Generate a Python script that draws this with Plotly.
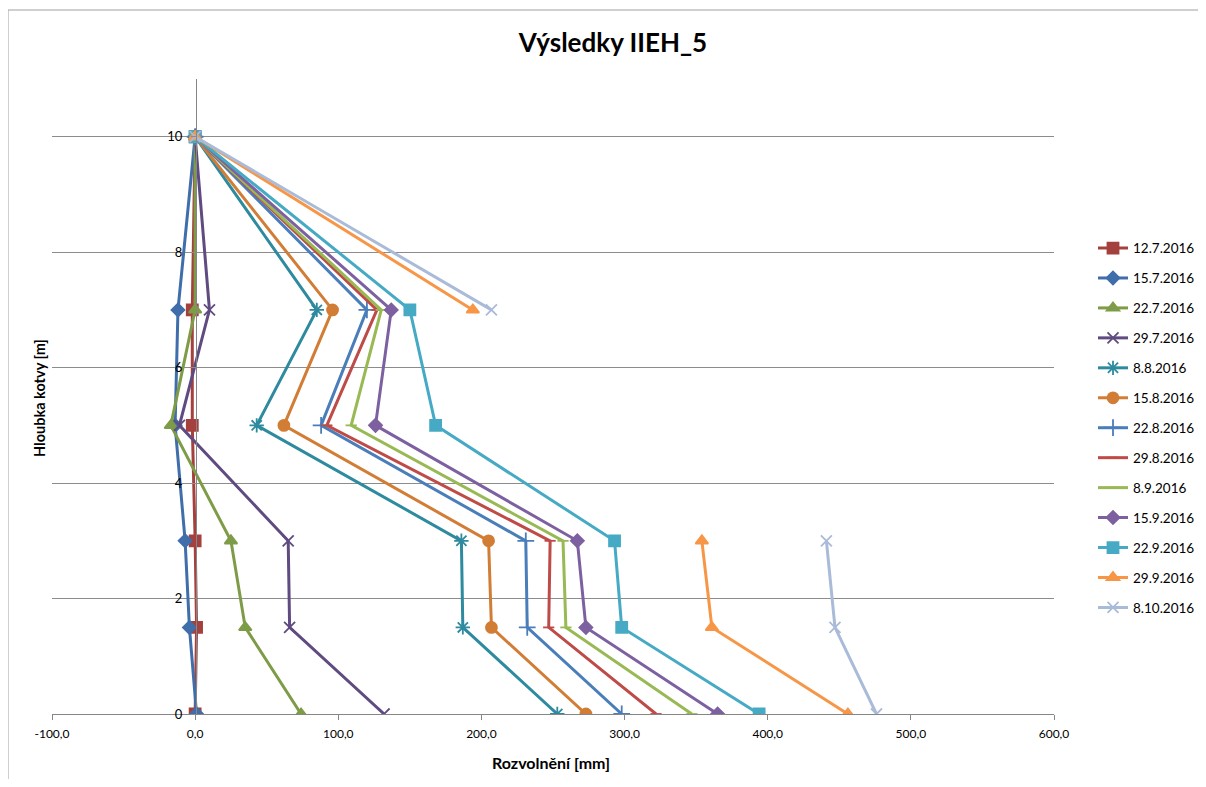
import plotly.graph_objects as go

# ---- data ----
depth = [0, 1.5, 3, 5, 7, 10]  # Hloubka kotvy [m]

series_names = ["12.7.2016", "15.7.2016", "22.7.2016", "29.7.2016", "8.8.2016",
                "15.8.2016", "22.8.2016", "29.8.2016", "8.9.2016", "15.9.2016",
                "22.9.2016", "29.9.2016", "8.10.2016"]

s_12_7 = [0, 1, 0, -2, -2, 0]
s_15_7 = [1, -4, -7, -14, -12, 0]
s_22_7 = [74, 35, 25, -17, 0, 0]
s_29_7 = [132, 66, 65, -11, 10, 0]
s_8_8 = [253, 187, 186, 43, 85, 0]
s_15_8 = [273, 207, 205, 62, 96, 0]
s_22_8 = [298, 232, 231, 88, 120, 0]
s_29_8 = [322, 247, 248, 92, 127, 0]
s_8_9 = [347, 259, 257, 109, 130, 0]
s_15_9 = [365, 273, 267, 126, 137, 0]
s_22_9 = [394, 298, 293, 168, 150, 0]
s_29_9 = [456, 361, 354, None, 194, 0]
s_8_10 = [476, 447, 441, None, 207, 0]

series_values = [s_12_7, s_15_7, s_22_7, s_29_7, s_8_8, s_15_8, s_22_8,
                 s_29_8, s_8_9, s_15_9, s_22_9, s_29_9, s_8_10]

x_ticks = [-100, 0, 100, 200, 300, 400, 500, 600]
x_ticklabels = ["-100,0", "0,0", "100,0", "200,0", "300,0", "400,0", "500,0", "600,0"]
y_ticks = [0, 2, 4, 6, 8, 10]

# ---- styles ----
colors = ["#A4403D", "#3F6EAA", "#7E9C47", "#5F4B80", "#2E8A9E", "#D27D35",
          "#4A7EBB", "#BE4B48", "#98B954", "#7D60A0", "#46AAC5", "#F79646", "#A9BBD9"]
symbols = ["square", "diamond", "triangle-up", "x-thin-open", "asterisk-open",
           "circle", "cross-thin-open", "line-ew-open", "line-ew-open", "diamond",
           "square", "triangle-up", "x-thin-open"]
sizes = [11, 10, 11, 11, 12, 11, 12, 8, 8, 10, 11, 11, 11]

FONT = "Lato, 'Open Sans', sans-serif"

fig = go.Figure()
for i, (name, vals) in enumerate(zip(series_names, series_values)):
    fig.add_trace(go.Scatter(
        x=vals, y=depth, name=name, mode="lines+markers",
        legendgroup=f"g{i}",
        connectgaps=False,
        line=dict(color=colors[i], width=3),
        marker=dict(symbol=symbols[i], size=sizes[i], color=colors[i],
                    line=dict(color=colors[i], width=1.8)),
    ))

# page body has an 8px margin on every side: work in page pixels, subtract offset
OFF = 8
W, H = 1206 - 2 * OFF, 787 - 2 * OFF
L, T = 52 - OFF, 79 - OFF
R = W - (1054 - OFF)
B = H - (714 - OFF)
plot_w = W - L - R
plot_h = H - T - B


def px_x(px):
    return (px - 52) / plot_w


def px_y(py):
    return (714 - py) / plot_h


fig.update_layout(
    width=W, height=H,
    margin=dict(l=L, r=R, t=T, b=B, autoexpand=False),
    paper_bgcolor="white", plot_bgcolor="white",
    font=dict(family=FONT, size=12, color="#000000"),
    title=dict(text="<b>Výsledky IIEH_5</b>", x=(613 - OFF) / W,
               xanchor="center", xref="container",
               y=1 - (43 - OFF) / H, yanchor="middle",
               font=dict(family=FONT, size=26, color="#000000")),
    showlegend=True,
    legend=dict(xref="container", yref="container",
                x=(1093 - OFF) / W, xanchor="left",
                y=1 - (425.5 - OFF) / H, yanchor="middle",
                font=dict(family=FONT, size=13.5, color="#000000"),
                tracegroupgap=9.4, itemwidth=30, bgcolor="rgba(0,0,0,0)"),
    xaxis=dict(range=[-100, 600], tickvals=x_ticks, ticktext=x_ticklabels,
               showgrid=False, zeroline=False, showline=True,
               linecolor="#868686", linewidth=1,
               ticks="outside", ticklen=5, tickcolor="#868686",
               ticklabelstandoff=4,
               tickfont=dict(family=FONT, size=12, color="#000000")),
    yaxis=dict(range=[0, 11], tickvals=y_ticks, anchor="free", position=px_x(196),
               showgrid=True, gridcolor="#8C8C8C", gridwidth=1,
               zeroline=False, showline=True, linecolor="#868686", linewidth=1,
               ticks="outside", ticklen=5, tickcolor="#8C8C8C",
               ticklabelstandoff=6,
               tickfont=dict(family=FONT, size=13, color="#000000")),
    annotations=[
        dict(text="<b>Hloubka kotvy [m]</b>", xref="paper", yref="paper",
             x=px_x(40), y=px_y(398), textangle=-90,
             showarrow=False, xanchor="center", yanchor="middle",
             font=dict(family=FONT, size=14.5, color="#000000")),
        dict(text="<b>Rozvolnění [mm]</b>", xref="paper", yref="paper",
             x=px_x(551), y=px_y(762),
             showarrow=False, xanchor="center", yanchor="middle",
             font=dict(family=FONT, size=16, color="#000000")),
    ],
    shapes=[
        dict(type="rect", xref="paper", yref="paper",
             x0=px_x(8), x1=1.3, y0=-0.3, y1=px_y(10),
             line=dict(color="#A0A0A0", width=1), fillcolor="rgba(0,0,0,0)",
             layer="below"),
    ],
)

fig.write_html("out.html")
